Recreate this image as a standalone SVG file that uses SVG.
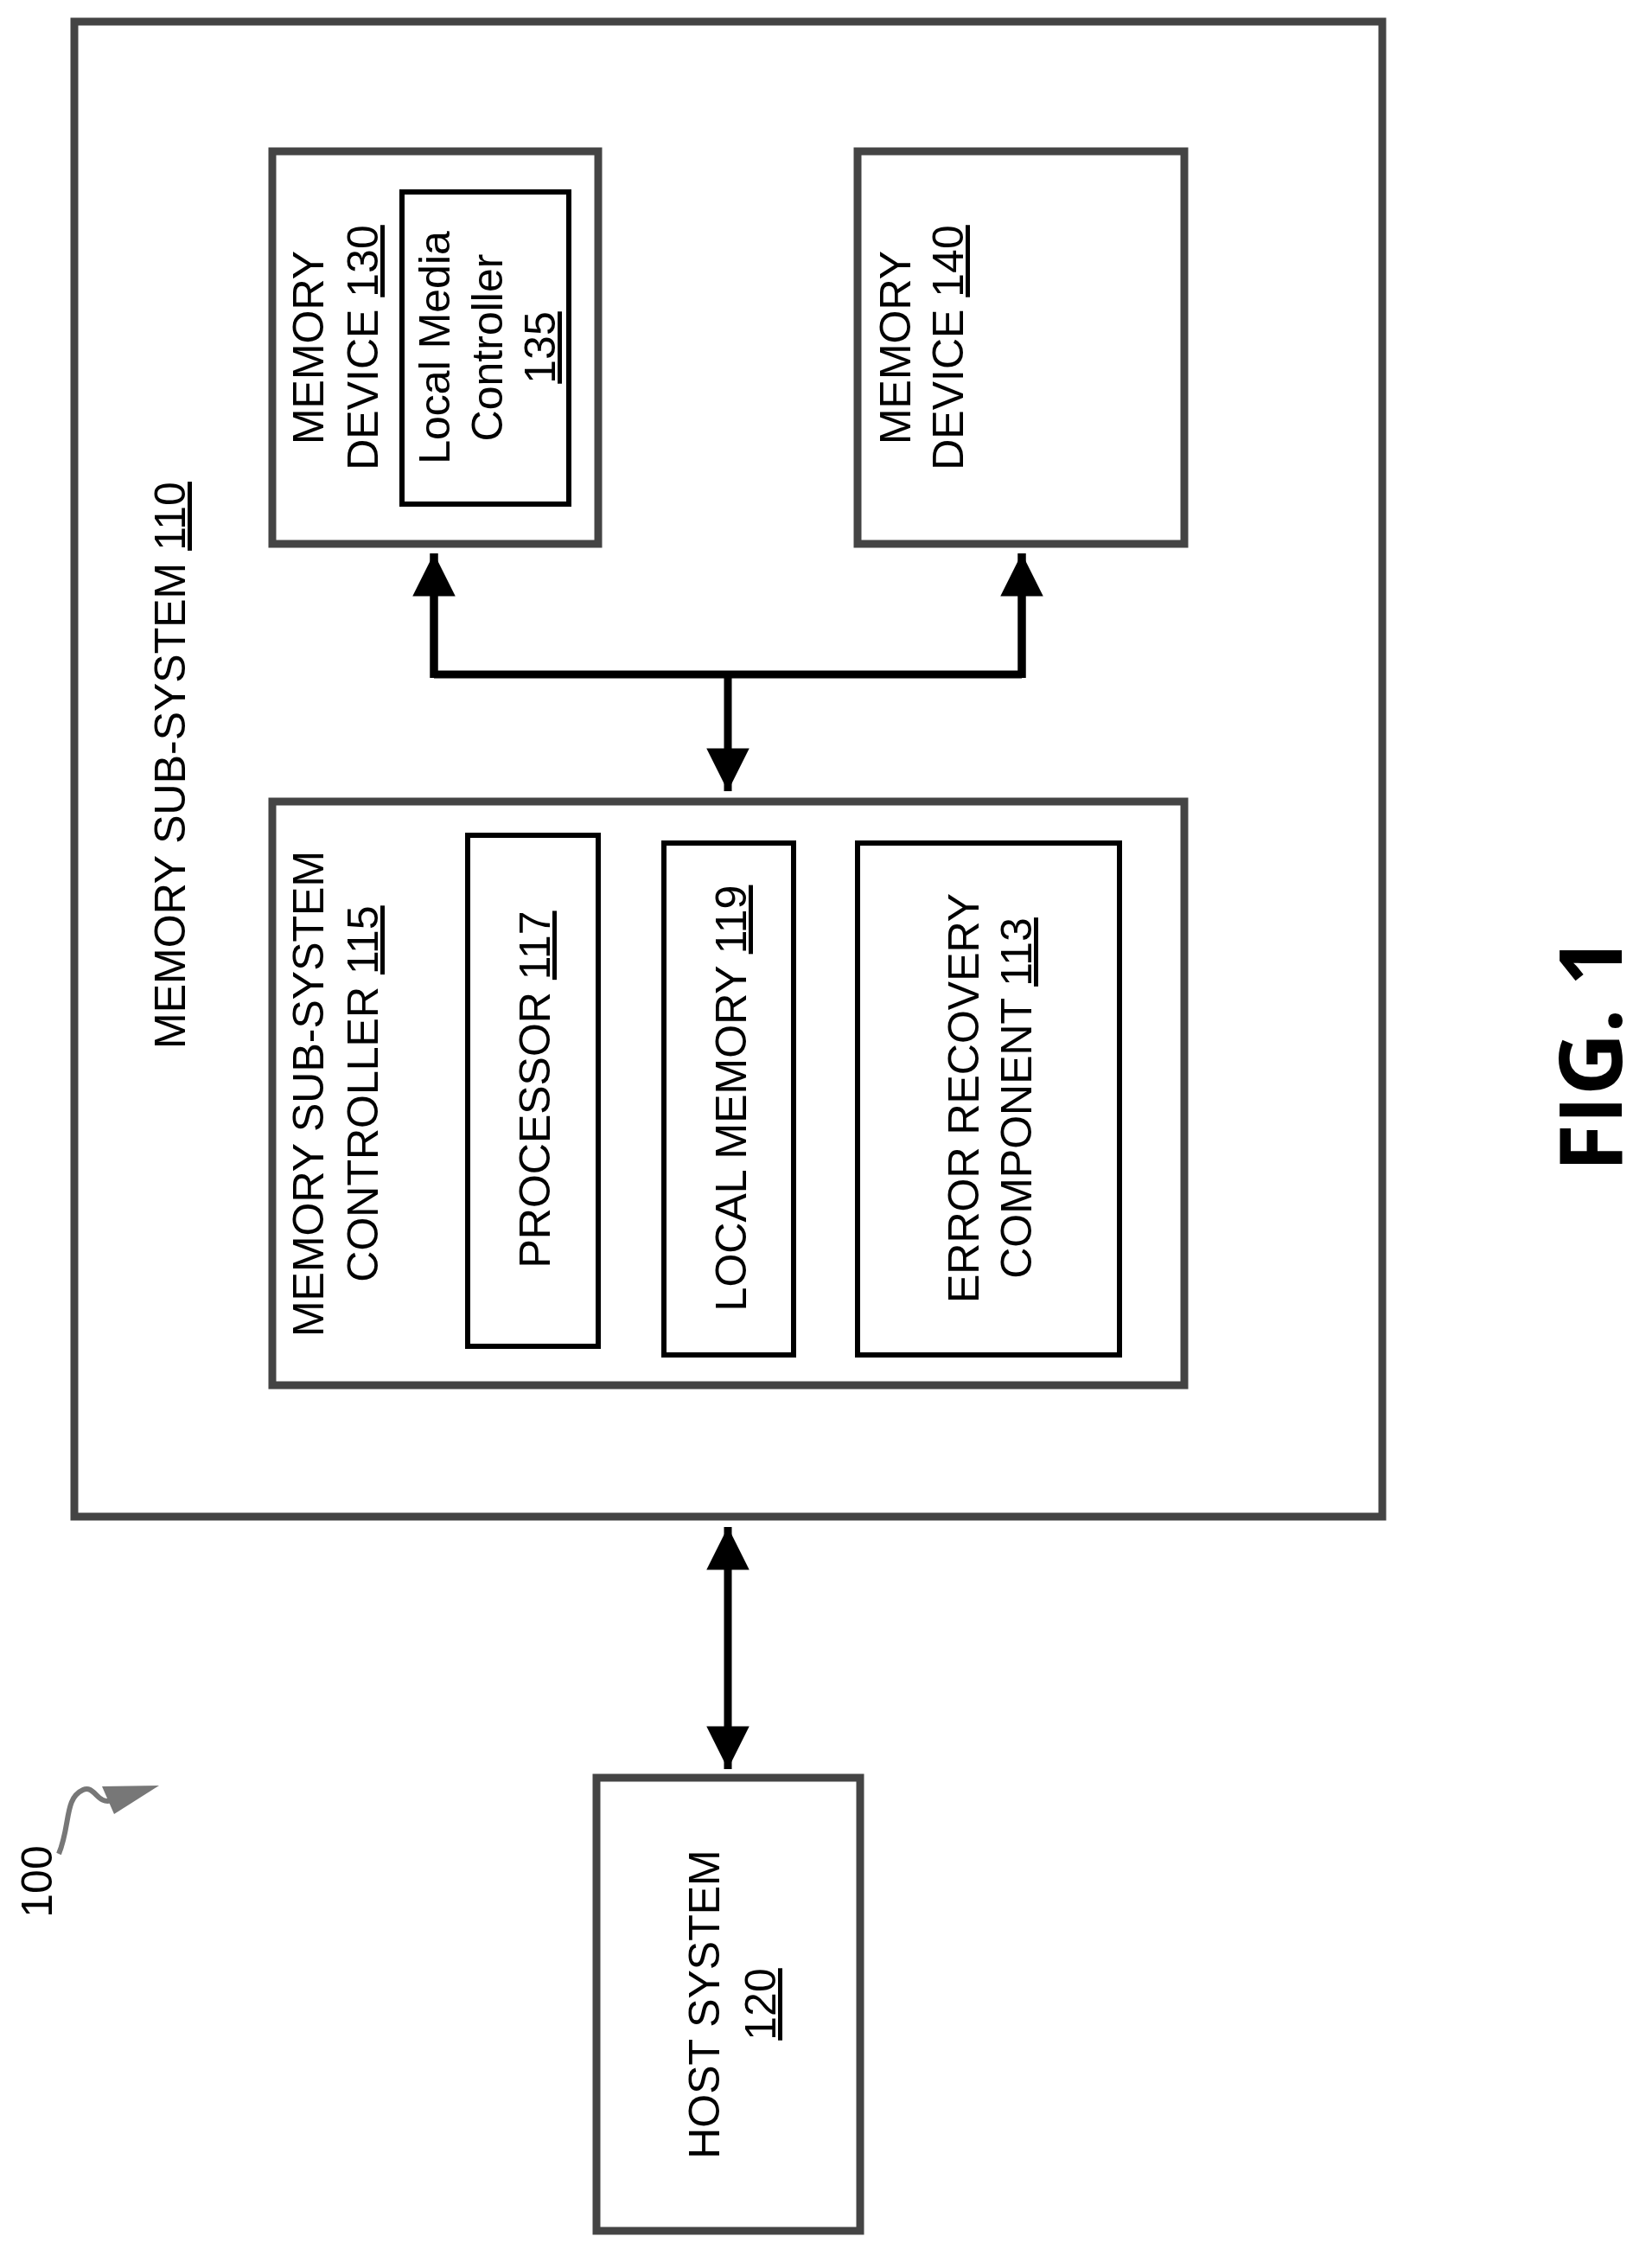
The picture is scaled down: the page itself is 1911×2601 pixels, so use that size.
<svg xmlns="http://www.w3.org/2000/svg" width="1911" height="2601" viewBox="0 0 1911 2601">
<defs>
<style>
.ob{fill:#fff;stroke:#444;stroke-width:9}
.ib{fill:#fff;stroke:#000;stroke-width:6}
.t{font-family:"Liberation Sans",Arial,sans-serif;font-size:50px;fill:#000;text-anchor:middle}
.u{text-decoration:underline}
.ln{stroke:#000;stroke-width:9;fill:none}
</style>
<marker id="ah" viewBox="0 0 10 10" refX="10" refY="5" markerWidth="8" markerHeight="5.5" markerUnits="strokeWidth" orient="auto-start-reverse"><path d="M0,0L10,5L0,10Z" fill="#000"/></marker>
</defs>
<g id="subsystem110"><rect class="ob" x="86" y="25" width="1513" height="1729"/>
<text class="t" transform="translate(214,885) rotate(-90)">MEMORY SUB-SYSTEM <tspan class="u">110</tspan></text></g>
<g id="device130"><rect class="ob" x="315" y="175" width="377" height="454"/>
<text class="t" transform="translate(374,402) rotate(-90)">MEMORY</text>
<text class="t" transform="translate(437,402) rotate(-90)">DEVICE <tspan class="u">130</tspan></text></g>
<g id="lmc135"><rect class="ib" x="465" y="222" width="193" height="361"/>
<text class="t" transform="translate(520,402) rotate(-90)">Local Media</text>
<text class="t" transform="translate(581,402) rotate(-90)">Controller</text>
<text class="t u" transform="translate(642,402) rotate(-90)">135</text></g>
<g id="device140"><rect class="ob" x="992" y="175" width="378" height="454"/>
<text class="t" transform="translate(1053,402) rotate(-90)">MEMORY</text>
<text class="t" transform="translate(1114,402) rotate(-90)">DEVICE <tspan class="u">140</tspan></text></g>
<g id="controller115"><rect class="ob" x="315" y="927" width="1055" height="675"/>
<text class="t" transform="translate(374,1265) rotate(-90)">MEMORY SUB-SYSTEM</text>
<text class="t" transform="translate(437,1265) rotate(-90)">CONTROLLER <tspan class="u">115</tspan></text></g>
<g id="processor117"><rect class="ib" x="541" y="966" width="151" height="591"/>
<text class="t" transform="translate(636,1260) rotate(-90)">PROCESSOR <tspan class="u">117</tspan></text></g>
<g id="localmem119"><rect class="ib" x="768" y="975" width="150" height="592"/>
<text class="t" transform="translate(863,1270) rotate(-90)">LOCAL MEMORY <tspan class="u">119</tspan></text></g>
<g id="erc113"><rect class="ib" x="992" y="975" width="303" height="592"/>
<text class="t" transform="translate(1132,1270) rotate(-90)">ERROR RECOVERY</text>
<text class="t" transform="translate(1193,1270) rotate(-90)">COMPONENT <tspan class="u">113</tspan></text></g>
<g id="host120"><rect class="ob" x="690" y="2056" width="305" height="524"/>
<text class="t" transform="translate(832,2318) rotate(-90)">HOST SYSTEM</text>
<text class="t u" transform="translate(897,2318) rotate(-90)">120</text></g>
<g id="connectors">
<path class="ln" d="M502,780H1182M502,784V640M1182,784V640M842,780V915" marker-end="url(#ah)"/>
<line class="ln" x1="502" y1="784" x2="502" y2="640" marker-end="url(#ah)"/>
<line class="ln" x1="1182" y1="784" x2="1182" y2="640" marker-end="url(#ah)"/>
<line class="ln" x1="842" y1="1766" x2="842" y2="2046" marker-start="url(#ah)" marker-end="url(#ah)"/>
</g>
<g id="ref100">
<text class="t" transform="translate(60,2176) rotate(-90)">100</text>
<path d="M68,2144C82,2110 74,2080 96,2070C110,2064 112,2088 130,2082" fill="none" stroke="#777" stroke-width="6"/>
<path d="M118,2066L184,2065L132,2098Z" fill="#777"/>
</g>
<text transform="translate(1876,1219) rotate(-90)" style="font-family:'Open Sans',sans-serif;font-weight:bold;font-size:100px;text-anchor:middle">FIG. 1</text>
</svg>
